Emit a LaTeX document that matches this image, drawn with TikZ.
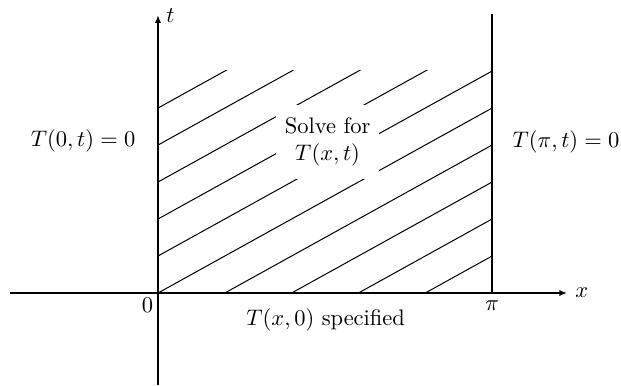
\documentclass[tikz,border=0pt]{standalone}
\usepackage{amsmath}
\usetikzlibrary{arrows.meta}

\begin{document}
\begin{tikzpicture}[
    axis/.style={line width=0.7pt},
    arrow/.style={axis,-{Latex[length=3.4pt,width=2.8pt]}},
    hatch/.style={line width=0.45pt},
    solvebox/.style={fill=white,align=center,inner xsep=4pt,inner ysep=5.5pt}
]
\useasboundingbox (-2.469,-1.453) rectangle (7.234,4.578);
\def\P{5.22}
\coordinate (O) at (0,0);
\coordinate (xl) at (-2.31,0);
\coordinate (xr) at (6.39,0);
\coordinate (tb) at (0,-1.44);
\coordinate (tt) at (0,4.34);
\coordinate (pib) at (\P,0);
\coordinate (pit) at (\P,4.36);

\begin{scope}
\clip (O) rectangle (\P,3.47);
\foreach \k in {-5,...,4}
    \draw[hatch] (\k*1.044,0) -- ++(7.5*1.044,7.5*0.578);
\end{scope}

\node[solvebox] (solve) at (2.65,2.36) {Solve for\\$T(x,t)$};

\draw[arrow] (xl) -- (xr) node[right] (xlab) {$x$};
\draw[arrow] (tb) -- (tt) node[right] (tlab) {$t$};
\draw[axis] (pib) -- (pit);

\node[anchor=north east,inner sep=2pt] (zero) at (O) {$0$};
\node[below] (pilab) at (pib) {$\pi$};
\node (leftbc) at (-1.17,2.375) {$T(0,t)=0$};
\node (rightbc) at (6.375,2.36) {$T(\pi,t)=0$};
\node (initial) at (2.62,-0.42) {$T(x,0)$ specified};
\end{tikzpicture}
\end{document}
